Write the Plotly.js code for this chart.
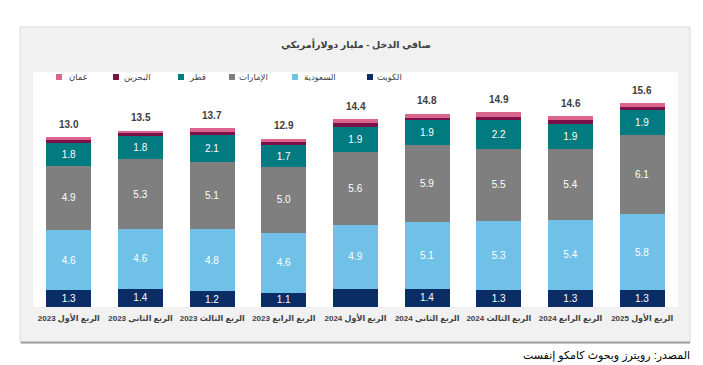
<!DOCTYPE html>
<html>
<head>
<meta charset="utf-8">
<script src="https://cdn.plot.ly/plotly-3.0.1.min.js"></script>
<style>html,body{margin:0;padding:0;background:#fff}#chart{width:703px;height:365px}</style>
</head>
<body>
<div id="chart"></div>
<script>
// ---- Data (USD billion) ----
const quarters = ["الربع الأول 2023","الربع الثاني 2023","الربع الثالث 2023","الربع الرابع 2023","الربع الأول 2024","الربع الثاني 2024","الربع الثالث 2024","الربع الرابع 2024","الربع الأول 2025"];
const kuwait  = [1.3, 1.4, 1.2, 1.1, 1.4, 1.4, 1.3, 1.3, 1.3];
const saudi   = [4.6, 4.6, 4.8, 4.6, 4.9, 5.1, 5.3, 5.4, 5.8];
const uae     = [4.9, 5.3, 5.1, 5.0, 5.6, 5.9, 5.5, 5.4, 6.1];
const qatar   = [1.8, 1.8, 2.1, 1.7, 1.9, 1.9, 2.2, 1.9, 1.9];
const bahrain = [0.2, 0.2, 0.2, 0.25, 0.3, 0.2, 0.25, 0.3, 0.25];
const oman    = [0.2, 0.2, 0.3, 0.25, 0.3, 0.3, 0.35, 0.3, 0.25];
const totals  = [13.0, 13.5, 13.7, 12.9, 14.4, 14.8, 14.9, 14.6, 15.6];
const seriesNames = ["الكويت","السعودية","الإمارات","قطر","البحرين","عمان"];
const titleText = "صافي الدخل - مليار دولارأمريكي";
const sourceText = "المصدر: رويترز وبحوث كامكو إنفست";

// ---- Style ----
const colors = ["#0b2d66","#70c1e7","#7f7f7f","#017a80","#7a1149","#dc6590"];
const W = 703, H = 365, ML = 33, MR = 25, MT = 72, MB = 58;
const PW = W - ML - MR, PH = H - MT - MB;
const X = px => (px - ML) / PW;
const Y = py => (H - MB - py) / PH;
const rtl = s => "\u202B" + s + "\u202C";
const FONT = "Arial, 'Liberation Sans', 'DejaVu Sans', sans-serif";

const values = [kuwait, saudi, uae, qatar, bahrain, oman];
const labelled = [true, true, true, true, false, false];
const hiddenLabel = {0: [4]}; // Kuwait label not shown for Q1 2024

const traces = values.map((vals, s) => ({
  type: "bar",
  name: seriesNames[s],
  x: quarters,
  y: vals,
  marker: {color: colors[s], line: {width: 0}},
  text: labelled[s] ? vals.map((v, i) => (hiddenLabel[s] && hiddenLabel[s].includes(i)) ? "" : v.toFixed(1)) : vals.map(() => ""),
  textposition: labelled[s] ? "inside" : "none",
  insidetextanchor: "middle",
  textangle: 0,
  constraintext: "none",
  textfont: {color: "#ffffff", size: 10, family: FONT},
  hoverinfo: "none",
  showlegend: false
}));

const annotations = [];
// totals
quarters.forEach((q, i) => {
  annotations.push({x: q, y: totals[i], xref: "x", yref: "y", text: totals[i].toFixed(1),
    showarrow: false, yanchor: "middle", yshift: 13,
    font: {family: FONT, size: 10, color: "#404040", weight: "bold"}});
});
// manual legend (RTL order: first series at right)
const legendItems = [
  {sq: 367, tx: 375}, {sq: 292, tx: 302}, {sq: 229, tx: 237},
  {sq: 178, tx: 187}, {sq: 113, tx: 122}, {sq: 56, tx: 67}
];
const shapes = [
  {type: "rect", xref: "paper", yref: "paper", x0: X(20), x1: X(690), y0: Y(343), y1: Y(27),
   fillcolor: "#f1f1f1", line: {color: "#d9d9d9", width: 1}, layer: "below"},
  {type: "line", xref: "paper", yref: "paper", x0: X(21), x1: X(690), y0: Y(342.5), y1: Y(342.5),
   line: {color: "#a0a0a0", width: 2}, layer: "below"},
  {type: "rect", xref: "paper", yref: "paper", x0: X(33), x1: X(678), y0: Y(307), y1: Y(72),
   fillcolor: "#ffffff", line: {width: 0}, layer: "below"}
];
legendItems.forEach((it, s) => {
  shapes.push({type: "rect", xref: "paper", yref: "paper", x0: X(it.sq), x1: X(it.sq + 6),
    y0: Y(80), y1: Y(74), fillcolor: colors[s], line: {width: 0}, layer: "above"});
  annotations.push({xref: "paper", yref: "paper", x: X(it.tx), y: Y(77), xanchor: "left", yanchor: "middle",
    text: seriesNames[s], showarrow: false, font: {family: FONT, size: 8.5, color: "#404040"}});
});
// source
annotations.push({xref: "paper", yref: "paper", x: X(692), y: Y(355), xanchor: "right", yanchor: "middle",
  text: sourceText, showarrow: false, font: {family: FONT, size: 11, color: "#000000"}});

const layout = {
  width: W, height: H,
  margin: {l: ML, r: MR, t: MT, b: MB, pad: 0},
  paper_bgcolor: "#ffffff", plot_bgcolor: "#ffffff",
  barmode: "stack", bargap: 0.37,
  showlegend: false,
  title: {text: titleText, x: X(356), xanchor: "center", xref: "paper", y: 1 - 45 / H, yref: "container", yanchor: "middle",
    font: {family: FONT, size: 9.5, color: "#404040", weight: "bold"}},
  xaxis: {type: "category", range: [-0.5, 8.5], showgrid: false, zeroline: false, showline: false, ticks: "",
    tickvals: quarters, ticktext: quarters.map(rtl), tickangle: 0, automargin: false, ticklabelstandoff: 5,
    tickfont: {family: FONT, size: 8, color: "#404040", weight: "bold"}, fixedrange: true},
  yaxis: {range: [0, 18], visible: false, showgrid: false, zeroline: false, fixedrange: true},
  shapes: shapes,
  annotations: annotations
};

Plotly.newPlot("chart", traces, layout, {staticPlot: true, displayModeBar: false});
</script>
</body>
</html>
